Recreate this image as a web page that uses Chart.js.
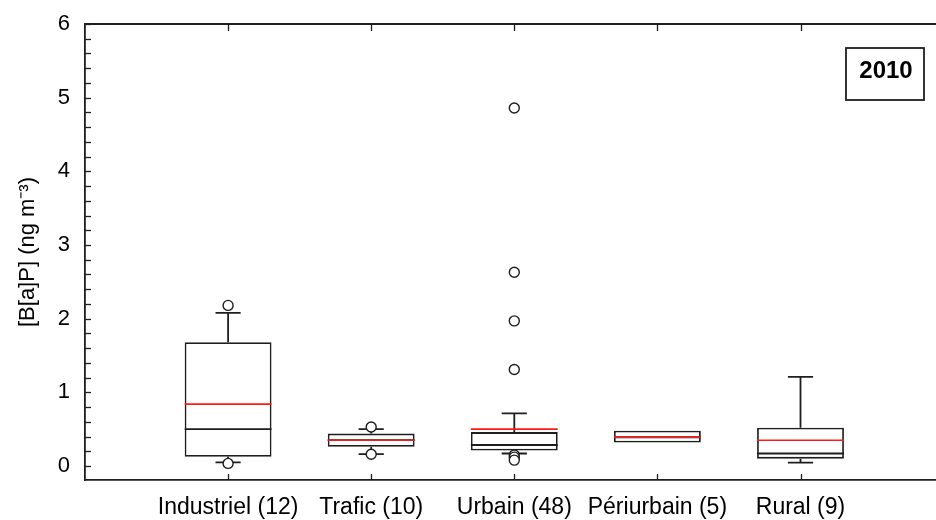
<!DOCTYPE html>
<html>
<head>
<meta charset="utf-8">
<script src="https://cdn.jsdelivr.net/npm/chart.js@4.4.1/dist/chart.umd.min.js"></script>
<style>
  html, body { margin: 0; padding: 0; background: #fff; overflow: hidden; }
  #wrap { width: 936px; height: 520px; position: relative; overflow: hidden; }
</style>
</head>
<body>
<div id="wrap"><canvas id="c" width="950" height="520"></canvas></div>
<script>
// ---- Data ----
const categories   = ['Industriel (12)', 'Trafic (10)', 'Urbain (48)', 'Périurbain (5)', 'Rural (9)'];
const whiskerLow   = [0.05, 0.16, 0.17, 0.32, 0.045];
const q1           = [0.126, 0.26, 0.21, 0.32, 0.10];
const median       = [0.50, 0.35, 0.285, 0.39, 0.17];
const mean         = [0.84, 0.35, 0.50, 0.39, 0.35];
const q3           = [1.68, 0.44, 0.46, 0.48, 0.52];
const whiskerHigh  = [2.08, 0.50, 0.715, 0.48, 1.21];
const outliers     = [[2.18, 0.035], [0.53, 0.16], [4.86, 2.63, 1.97, 1.31, 0.15, 0.12, 0.08], [], []];
const yMajorTicks  = [0, 1, 2, 3, 4, 5, 6];
const yMinorStep   = 0.2;
const yearLabel    = '2010';
const yTitle       = '[B[a]P] (ng m\u207B\u00B3)';

// ---- Datasets built from the arrays ----
const boxData = categories.map((c, i) => ({ x: i + 1, y: [q1[i], q3[i]] }));
const outlierData = [];
outliers.forEach((arr, i) => arr.forEach(v => outlierData.push({ x: i + 1, y: v })));

const INK = '#1e1e1e';
const LW = 1.8;
const FONT = 'Arial, "Liberation Sans", sans-serif';

const boxPlugin = {
  id: 'boxExtras',
  beforeDatasetsDraw(chart) {
    const ctx = chart.ctx, xs = chart.scales.x, ys = chart.scales.y;
    const step = xs.getPixelForValue(2) - xs.getPixelForValue(1);
    const capHalf = step * 0.088;
    ctx.save();
    ctx.strokeStyle = INK; ctx.lineWidth = LW;
    categories.forEach((c, i) => {
      const x = xs.getPixelForValue(i + 1);
      const segs = [[q3[i], whiskerHigh[i]], [q1[i], whiskerLow[i]]];
      segs.forEach(([a, b]) => {
        if (a === b) return; // no whisker beyond the box
        const ya = ys.getPixelForValue(a), yb = ys.getPixelForValue(b);
        ctx.beginPath();
        ctx.moveTo(x, ya); ctx.lineTo(x, yb);
        ctx.moveTo(x - capHalf, yb); ctx.lineTo(x + capHalf, yb);
        ctx.stroke();
      });
    });
    ctx.restore();
  },
  afterDatasetDraw(chart, args) {
    if (args.index !== 0) return;
    const ctx = chart.ctx, ys = chart.scales.y;
    const meta = chart.getDatasetMeta(0);
    ctx.save();
    meta.data.forEach((bar, i) => {
      const half = bar.width / 2;
      const ym = ys.getPixelForValue(median[i]);
      ctx.strokeStyle = INK; ctx.lineWidth = LW;
      ctx.beginPath(); ctx.moveTo(bar.x - half, ym); ctx.lineTo(bar.x + half, ym); ctx.stroke();
      const ya = ys.getPixelForValue(mean[i]);
      ctx.strokeStyle = '#ff1a1a'; ctx.lineWidth = 1.6;
      ctx.beginPath(); ctx.moveTo(bar.x - half, ya); ctx.lineTo(bar.x + half, ya); ctx.stroke();
    });
    ctx.restore();
  },
  afterDraw(chart) {
    const ctx = chart.ctx, xs = chart.scales.x, ys = chart.scales.y;
    const a = chart.chartArea;
    ctx.save();
    ctx.strokeStyle = INK; ctx.lineWidth = LW;
    ctx.beginPath(); ctx.moveTo(a.left, a.top); ctx.lineTo(a.right + 10, a.top); ctx.stroke();
    ctx.lineWidth = 1.3;
    for (let k = 0; k * yMinorStep <= ys.max + 1e-9; k++) {
      const v = k * yMinorStep;
      const y = Math.round(ys.getPixelForValue(v)) + 0.5;
      ctx.beginPath(); ctx.moveTo(a.left, y); ctx.lineTo(a.left + 6, y); ctx.stroke();
    }
    categories.forEach((c, i) => {
      const x = Math.round(xs.getPixelForValue(i + 1)) + 0.5;
      ctx.beginPath();
      ctx.moveTo(x, a.bottom); ctx.lineTo(x, a.bottom - 6);
      ctx.moveTo(x, a.top); ctx.lineTo(x, a.top + 7);
      ctx.stroke();
    });
    // year box (top-right corner of the plot)
    const bx = 846, by = a.top + 24, bw = 78, bh = 52;
    ctx.lineWidth = LW;
    ctx.strokeRect(bx, by, bw, bh);
    ctx.fillStyle = '#000';
    ctx.font = 'bold 24px ' + FONT;
    ctx.textAlign = 'center'; ctx.textBaseline = 'alphabetic';
    ctx.fillText(yearLabel, bx + bw / 2 + 1, by + 30);
    ctx.restore();
  }
};

new Chart(document.getElementById('c'), {
  type: 'bar',
  data: {
    datasets: [
      {
        type: 'bar',
        data: boxData,
        backgroundColor: '#fff',
        borderColor: INK,
        borderWidth: LW,
        borderSkipped: false,
        barPercentage: 0.607,
        categoryPercentage: 1,
        order: 2
      },
      {
        type: 'scatter',
        data: outlierData,
        pointStyle: 'circle',
        pointRadius: 5,
        pointBackgroundColor: '#fff',
        pointBorderColor: INK,
        pointBorderWidth: 1.4,
        showLine: false,
        order: 1
      }
    ]
  },
  options: {
    responsive: false,
    animation: false,
    events: [],
    layout: { padding: { left: 0, right: 0, top: 24, bottom: 0 } },
    plugins: { legend: { display: false }, tooltip: { enabled: false } },
    scales: {
      x: {
        type: 'linear',
        min: 0,
        max: 6,
        offset: false,
        grid: { display: false, drawTicks: false },
        border: { display: true, color: INK, width: LW },
        afterBuildTicks: s => { s.ticks = categories.map((c, i) => ({ value: i + 1 })); },
        afterFit: s => { s.height = 40; s.paddingLeft = 0; s.paddingRight = 0; },
        ticks: {
          autoSkip: false,
          maxRotation: 0,
          padding: 14,
          color: '#000',
          font: { family: FONT, size: 23 },
          callback: v => categories[Math.round(v) - 1]
        }
      },
      y: {
        type: 'linear',
        min: -0.19,
        max: 6,
        grid: { display: false, drawTicks: false },
        border: { display: true, color: INK, width: LW },
        afterBuildTicks: s => { s.ticks = yMajorTicks.map(v => ({ value: v })); },
        afterFit: s => { s.width = 85; s.paddingTop = 0; s.paddingBottom = 0; },
        ticks: {
          padding: 15,
          color: '#000',
          font: { family: FONT, size: 22 },
          callback: v => String(v)
        },
        title: {
          display: true,
          text: yTitle,
          color: '#000',
          font: { family: FONT, size: 22 },
          padding: { top: 15, bottom: 0 }
        }
      }
    }
  },
  plugins: [boxPlugin]
});
</script>
</body>
</html>
